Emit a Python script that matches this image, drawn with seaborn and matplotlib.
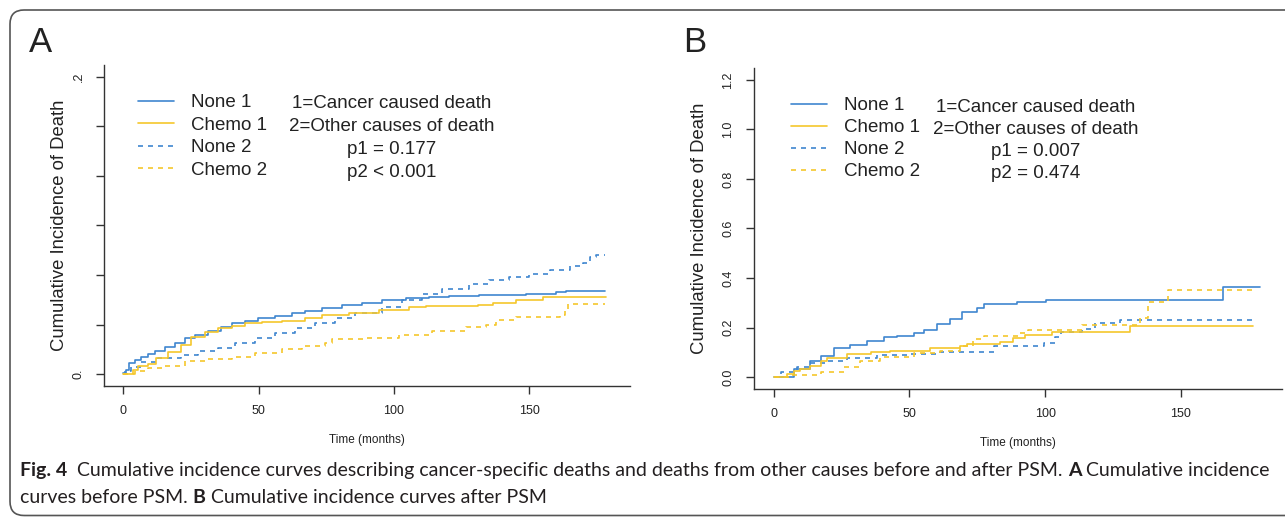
import numpy as np
import pandas as pd
import matplotlib
matplotlib.use("Agg")
import matplotlib.pyplot as plt
from matplotlib.lines import Line2D
from matplotlib.patches import FancyBboxPatch
import seaborn as sns

# ---- cumulative incidence estimates (time in months, CIF) ----
# Panel A: before PSM
a_none1_t = [0, 1.0, 2.2, 4.1, 6.6, 9.0, 11.5, 15.2, 18.9, 22.6, 26.3, 31.3, 36.2, 40.0, 44.9, 49.9, 56.0, 62.2, 67.2, 73.4, 80.8, 88.2, 95.6, 104.3, 112.9, 120.4, 131.5, 148.8, 159.9, 163.7, 177.9]
a_none1_v = [0.004, 0.017, 0.044, 0.058, 0.071, 0.082, 0.095, 0.111, 0.127, 0.145, 0.158, 0.175, 0.191, 0.205, 0.215, 0.225, 0.235, 0.245, 0.256, 0.265, 0.278, 0.289, 0.298, 0.309, 0.312, 0.316, 0.321, 0.325, 0.330, 0.337, 0.337]
a_chemo1_t = [0, 3.5, 5.3, 9.0, 12.1, 16.5, 21.4, 25.1, 30.1, 35.0, 40.0, 44.9, 51.1, 58.5, 67.2, 73.4, 83.2, 94.4, 105.5, 111.7, 130.9, 136.4, 145.1, 155.0, 178.5]
a_chemo1_v = [0, 0.017, 0.031, 0.041, 0.064, 0.091, 0.118, 0.149, 0.171, 0.185, 0.195, 0.205, 0.211, 0.215, 0.225, 0.238, 0.248, 0.258, 0.269, 0.274, 0.278, 0.288, 0.298, 0.312, 0.312]
a_none2_t = [0, 0.4, 2.8, 6.6, 12.7, 21.4, 27.6, 35.0, 41.2, 48.6, 56.0, 63.5, 70.9, 78.3, 85.7, 95.6, 103.0, 110.4, 117.9, 127.8, 135.2, 142.6, 150.0, 157.5, 164.9, 169.8, 172.3, 174.8, 177.9]
a_none2_v = [0, 0.011, 0.028, 0.047, 0.064, 0.078, 0.095, 0.104, 0.124, 0.145, 0.165, 0.187, 0.205, 0.225, 0.245, 0.272, 0.301, 0.322, 0.345, 0.363, 0.381, 0.392, 0.403, 0.419, 0.435, 0.448, 0.472, 0.479, 0.479]
a_chemo2_t = [0, 4.1, 9.0, 15.2, 22.6, 31.3, 40.0, 48.6, 58.5, 65.9, 74.6, 77.1, 89.4, 101.8, 114.2, 126.5, 133.9, 137.7, 145.1, 161.2, 163.0, 164.3, 177.9]
a_chemo2_v = [0, 0.011, 0.024, 0.033, 0.051, 0.060, 0.071, 0.087, 0.100, 0.114, 0.124, 0.140, 0.145, 0.158, 0.175, 0.189, 0.198, 0.218, 0.231, 0.238, 0.258, 0.282, 0.282]

# Panel B: after PSM
b_none1_t = [0, 7.5, 13.6, 17.3, 22.2, 28.3, 34.4, 40.6, 45.5, 51.6, 55.3, 60.2, 65.1, 69.4, 74.9, 77.3, 89.6, 100.4, 165.4, 179]
b_none1_v = [0, 0.032, 0.066, 0.086, 0.116, 0.129, 0.146, 0.16, 0.166, 0.177, 0.19, 0.213, 0.236, 0.263, 0.281, 0.294, 0.303, 0.313, 0.364, 0.364]
b_chemo1_t = [0, 5, 7.5, 9.9, 13.6, 17.3, 19.7, 27.1, 35.7, 43, 57.7, 68.8, 71.2, 83.5, 88.3, 92.4, 102.7, 131.4, 176.4]
b_chemo1_v = [0, 0.012, 0.023, 0.032, 0.043, 0.066, 0.079, 0.093, 0.102, 0.106, 0.116, 0.124, 0.133, 0.142, 0.156, 0.169, 0.182, 0.207, 0.207]
b_none2_t = [0, 2.6, 8.7, 13.6, 19.7, 27.1, 38.1, 50.4, 61.4, 81, 99.4, 103.7, 106, 113.5, 118.4, 127.6, 178]
b_none2_v = [0, 0.019, 0.039, 0.056, 0.066, 0.079, 0.089, 0.095, 0.102, 0.126, 0.137, 0.16, 0.182, 0.196, 0.217, 0.232, 0.232]
b_chemo2_t = [0, 6.3, 17.3, 25.8, 32, 39.3, 51.6, 61.4, 68.8, 73.6, 77.3, 90, 93.8, 113.5, 135, 137.7, 145.1, 176.8]
b_chemo2_v = [0, 0.008, 0.019, 0.039, 0.066, 0.083, 0.099, 0.106, 0.126, 0.153, 0.166, 0.177, 0.189, 0.209, 0.24, 0.305, 0.35, 0.35]

groups = ["None", "Chemo"]
causes = ["1", "2"]
legend_labels = ["None 1", "Chemo 1", "None 2", "Chemo 2"]
notes_a = ["1=Cancer caused death", "2=Other causes of death", "p1 = 0.177", "p2 < 0.001"]
notes_b = ["1=Cancer caused death", "2=Other causes of death", "p1 = 0.007", "p2 = 0.474"]
x_ticks = [0, 50, 100, 150]
y_ticks = [0.0, 0.2, 0.4, 0.6, 0.8, 1.0, 1.2]
y_labels_a = ["0.", "", "", "", "", "", ".2"]
y_labels_b = ["0.0", "0.2", "0.4", "0.6", "0.8", "1.0", "1.2"]
caption_1 = [("Fig. 4", "bold"), ("Cumulative incidence curves describing cancer-specific deaths and deaths from other causes before and after PSM.", "normal"),
             ("A", "bold"), ("Cumulative incidence", "normal")]
caption_1_gaps = [2, 1, 1]
caption_2 = [("curves before PSM.", "normal"), ("B", "bold"), ("Cumulative incidence curves after PSM", "normal")]
caption_2_gaps = [1, 1]

BLUE = "#3f86cf"
YELLOW = "#f5c72c"
INK = "#222222"
AXC = "#333333"


def frame(series):
    rows = []
    for (grp, cause), (t, v) in series.items():
        for ti, vi in zip(t, v):
            rows.append({"time": ti, "cif": vi, "group": grp, "cause": cause})
    return pd.DataFrame(rows)


df_a = frame({("None", "1"): (a_none1_t, a_none1_v), ("Chemo", "1"): (a_chemo1_t, a_chemo1_v),
              ("None", "2"): (a_none2_t, a_none2_v), ("Chemo", "2"): (a_chemo2_t, a_chemo2_v)})
df_b = frame({("None", "1"): (b_none1_t, b_none1_v), ("Chemo", "1"): (b_chemo1_t, b_chemo1_v),
              ("None", "2"): (b_none2_t, b_none2_v), ("Chemo", "2"): (b_chemo2_t, b_chemo2_v)})

sns.set_theme(style="white")
plt.rcParams["font.family"] = ["Liberation Sans", "DejaVu Sans"]

W, H = 1285, 517
fig = plt.figure(figsize=(W / 100, H / 100), dpi=100)
fig.patch.set_facecolor("white")


def fx(x):
    return x / W


def fy(y):
    return 1 - y / H


axA = fig.add_axes([fx(104), fy(386), (630 - 104) / W, (386 - 65) / H])
axB = fig.add_axes([fx(754), fy(389), (1282 - 754) / W, (389 - 68) / H])

palette = {"None": BLUE, "Chemo": YELLOW}
dashes = {"1": "", "2": (3, 3)}

for ax, df, ylabs in ((axA, df_a, y_labels_a), (axB, df_b, y_labels_b)):
    sns.lineplot(data=df, x="time", y="cif", hue="group", style="cause",
                 hue_order=groups, style_order=causes, palette=palette, dashes=dashes,
                 estimator=None, drawstyle="steps-post", lw=1.2, legend=False, ax=ax)
    ax.set_xlim(-7.2, 187.2)
    ax.set_ylim(-0.048, 1.248)
    ax.set_xticks(x_ticks)
    ax.set_xticklabels([str(t) for t in x_ticks], fontsize=9)
    ax.set_yticks(y_ticks)
    ax.set_yticklabels(ylabs, fontsize=9, rotation=90, va="center")
    for side in ("top", "right"):
        ax.spines[side].set_visible(False)
    for side in ("left", "bottom"):
        ax.spines[side].set_color(AXC)
        ax.spines[side].set_linewidth(1.0)
    ax.tick_params(axis="both", direction="out", length=6, width=1.0, color=AXC,
                   labelcolor=INK, left=True, bottom=True)
    ax.tick_params(axis="x", pad=8)
    ax.tick_params(axis="y", pad=8)
    ax.set_ylabel("Cumulative Incidence of Death", fontsize=13.3, color=INK)
    ax.set_xlabel("Time (months)", fontsize=8.5, color=INK)
    ax.grid(False)
    ax.set_facecolor("white")

axA.yaxis.set_label_coords((68 - 104) / 526, 0.5)
axB.yaxis.set_label_coords((708 - 754) / 528, 0.5)
axA.xaxis.set_label_coords(0.5, (386 - 434) / 321)
axB.xaxis.set_label_coords(0.5, (389 - 437) / 321)

handles = [Line2D([], [], color=BLUE, lw=1.2),
           Line2D([], [], color=YELLOW, lw=1.2),
           Line2D([], [], color=BLUE, lw=1.2, dashes=(3, 3)),
           Line2D([], [], color=YELLOW, lw=1.2, dashes=(3, 3))]

for x0, top, cx, note_y, pitch, spacing, notes in ((138, 94, 392, 104, 22.7, 0.29, notes_a),
                                                   (791, 97, 1036, 107, 22.2, 0.26, notes_b)):
    fig.legend(handles, legend_labels, loc="upper left", bbox_to_anchor=(fx(x0), fy(top)),
               frameon=False, fontsize=13.5, handlelength=1.92, handletextpad=0.9,
               labelspacing=spacing, borderpad=0, borderaxespad=0, labelcolor=INK)
    for i, note in enumerate(notes):
        fig.text(fx(cx), fy(note_y + pitch * i), note, ha="center", va="center",
                 fontsize=13.5, color=INK)

fig.text(fx(29), fy(52), "A", fontsize=25, color=INK, va="baseline")
fig.text(fx(683), fy(52), "B", fontsize=25, color=INK, va="baseline")

# caption below both panels
renderer = fig.canvas.get_renderer()
cap_font = ["Lato", "DejaVu Sans"]
cap_size = 14.0


def text_width(s, weight):
    t = fig.text(0, 0, s, fontsize=cap_size, family=cap_font, fontweight=weight)
    w = t.get_window_extent(renderer).width
    t.remove()
    return w


space_w = text_width("a a", "normal") - text_width("aa", "normal")


def caption_line(segments, gaps, x_px, y_px):
    x = x_px
    for i, (s, weight) in enumerate(segments):
        t = fig.text(fx(x), fy(y_px), s, fontsize=cap_size, family=cap_font,
                     fontweight=weight, color="#231f20", va="baseline")
        x += t.get_window_extent(renderer).width
        if i < len(gaps):
            x += space_w * gaps[i]


caption_line(caption_1, caption_1_gaps, 20, 476)
caption_line(caption_2, caption_2_gaps, 20, 503)

# rounded border around the figure panel
border = FancyBboxPatch((10, 1.5), 1320, 505.5, boxstyle="round,pad=0,rounding_size=14",
                        transform=None, fill=False, ec="#555555", lw=1.2)
fig.add_artist(border)

fig.savefig("out.png", dpi=100, facecolor="white")
